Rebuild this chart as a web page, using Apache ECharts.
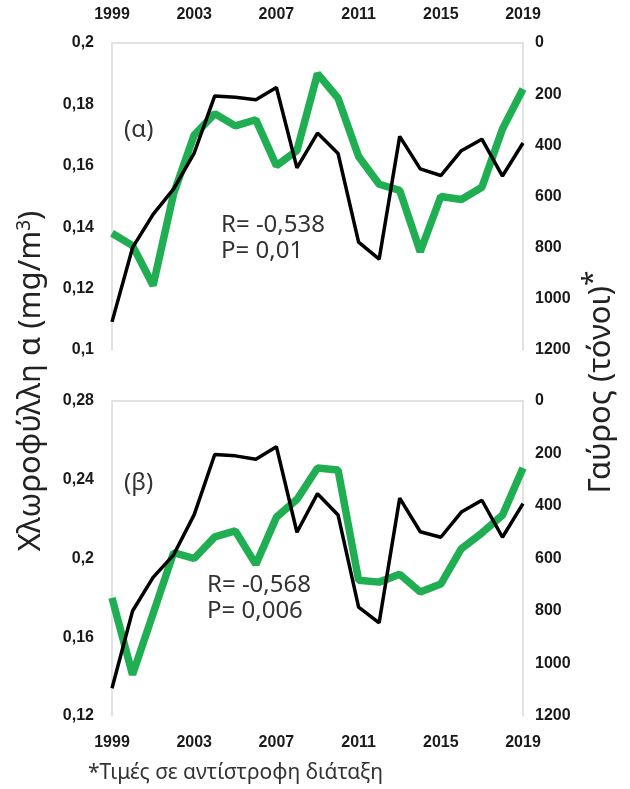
<!DOCTYPE html>
<html>
<head>
<meta charset="utf-8">
<style>
  html, body { margin: 0; padding: 0; background: #fff; }
  #chart { width: 630px; height: 789px; }
</style>
<script src="https://cdn.jsdelivr.net/npm/echarts@6/dist/echarts.min.js"></script>
</head>
<body>
<div id="chart"></div>
<script>
const years = ['1999','2000','2001','2002','2003','2004','2005','2006','2007','2008','2009','2010','2011','2012','2013','2014','2015','2016','2017','2018','2019'];
// Panel (α): chlorophyll a (mg/m3)
const chlA = [0.138, 0.134, 0.121, 0.151, 0.170, 0.177, 0.173, 0.175, 0.160, 0.165, 0.190, 0.182, 0.163, 0.154, 0.152, 0.132, 0.150, 0.149, 0.153, 0.172, 0.185];
// Panel (β): chlorophyll a (mg/m3)
const chlB = [0.180, 0.141, 0.172, 0.203, 0.200, 0.211, 0.214, 0.197, 0.221, 0.230, 0.246, 0.245, 0.189, 0.188, 0.192, 0.183, 0.187, 0.205, 0.213, 0.222, 0.246];
// Anchovy catches (tonnes), plotted on an inverted axis
const catchA = [1090, 800, 670, 570, 430, 207, 212, 222, 174, 488, 352, 432, 778, 845, 365, 492, 518, 421, 376, 520, 391];
const catchB = [1094, 800, 672, 586, 433, 204, 209, 222, 174, 500, 353, 434, 785, 845, 370, 498, 519, 423, 378, 519, 391];
const leftTicksA = {min: 0.1, max: 0.2, interval: 0.02};
const leftTicksB = {min: 0.12, max: 0.28, interval: 0.04};
const rightTicks = {min: 0, max: 1200, interval: 200};
const labelsA = ['(α)', 'R= -0,538', 'P= 0,01'];
const labelsB = ['(β)', 'R= -0,568', 'P= 0,006'];
const leftTitle = 'Χλωροφύλλη α (mg/m';
const rightTitle = 'Γαύρος (τόνοι)';
const footnote = '*Τιμές σε αντίστροφη διάταξη';

const FONT = 'Noto Sans';
const GREEN = '#1fae52';
const AXIS_COLOR = '#d9d9d9';
const fmt = v => String(+(+v).toFixed(2)).replace('.', ',');

const tickLabel = {color: '#1a1a1a', fontWeight: 'bold', fontSize: 16, fontFamily: 'Liberation Sans'};

function xAx(grid, pos, margin) {
  return {
    type: 'category', gridIndex: grid, data: years, boundaryGap: false, position: pos,
    axisLine: {show: true, lineStyle: {color: AXIS_COLOR, width: 1.5}},
    axisTick: {show: false},
    axisLabel: Object.assign({interval: 3, margin: margin}, tickLabel),
    splitLine: {show: false}
  };
}
function yAx(grid, pos, ticks, inverse, formatter, margin) {
  return {
    type: 'value', gridIndex: grid, position: pos, inverse: inverse,
    min: ticks.min, max: ticks.max, interval: ticks.interval,
    axisLine: {show: true, lineStyle: {color: AXIS_COLOR, width: 1.5}},
    axisTick: {show: false},
    splitLine: {show: false},
    axisLabel: Object.assign({formatter: formatter, margin: margin}, tickLabel)
  };
}

const chart = echarts.init(document.getElementById('chart'), null, {renderer: 'canvas'});
function note(text, x, y, size) {
  return {type: 'text', x: x, y: y,
    style: {text: text, fill: '#333', font: size + 'px "' + FONT + '"', verticalAlign: 'middle', align: 'left'}};
}

chart.setOption({
  animation: false,
  backgroundColor: '#fff',
  grid: [
    {left: 112, right: 107, top: 43, height: 307},
    {left: 112, right: 107, top: 401, height: 315}
  ],
  xAxis: [xAx(0, 'top', 20), xAx(1, 'bottom', 19)],
  yAxis: [
    yAx(0, 'left', leftTicksA, false, fmt, 18),
    yAx(0, 'right', rightTicks, true, v => String(v), 12),
    yAx(1, 'left', leftTicksB, false, fmt, 18),
    yAx(1, 'right', rightTicks, true, v => String(v), 12)
  ],
  series: [
    {type: 'line', xAxisIndex: 0, yAxisIndex: 0, data: chlA, symbol: 'none', lineStyle: {color: GREEN, width: 7.5}, z: 2},
    {type: 'line', xAxisIndex: 0, yAxisIndex: 1, data: catchA, symbol: 'none', lineStyle: {color: '#000', width: 3.5}, z: 3},
    {type: 'line', xAxisIndex: 1, yAxisIndex: 2, data: chlB, symbol: 'none', lineStyle: {color: GREEN, width: 7.5}, z: 2},
    {type: 'line', xAxisIndex: 1, yAxisIndex: 3, data: catchB, symbol: 'none', lineStyle: {color: '#000', width: 3.5}, z: 3}
  ],
  graphic: [
    note(labelsA[0], 124, 130, 24),
    note(labelsA[1], 221, 225, 24),
    note(labelsA[2], 221, 251, 24),
    note(labelsB[0], 124, 483, 24),
    note(labelsB[1], 207, 585, 24),
    note(labelsB[2], 207, 611, 24),
    {type: 'text', x: 31, y: 381, rotation: Math.PI / 2,
      style: {text: leftTitle + '{sup|3})', fill: '#222', font: '31px "' + FONT + '"', align: 'center', verticalAlign: 'middle',
        rich: {sup: {fontSize: 19, fontFamily: FONT, verticalAlign: 'top', padding: [0, 0, 12, 0], fill: '#222'}}}},
    {type: 'text', x: 601, y: 382, rotation: Math.PI / 2,
      style: {text: rightTitle + '{sup|*}', fill: '#222', font: '31px "' + FONT + '"', align: 'center', verticalAlign: 'middle',
        rich: {sup: {fontSize: 28, fontFamily: FONT, padding: [0, 0, 14, 0], fill: '#222'}}}},
    note(footnote, 88, 773, 21)
  ]
});
</script>
</body>
</html>
